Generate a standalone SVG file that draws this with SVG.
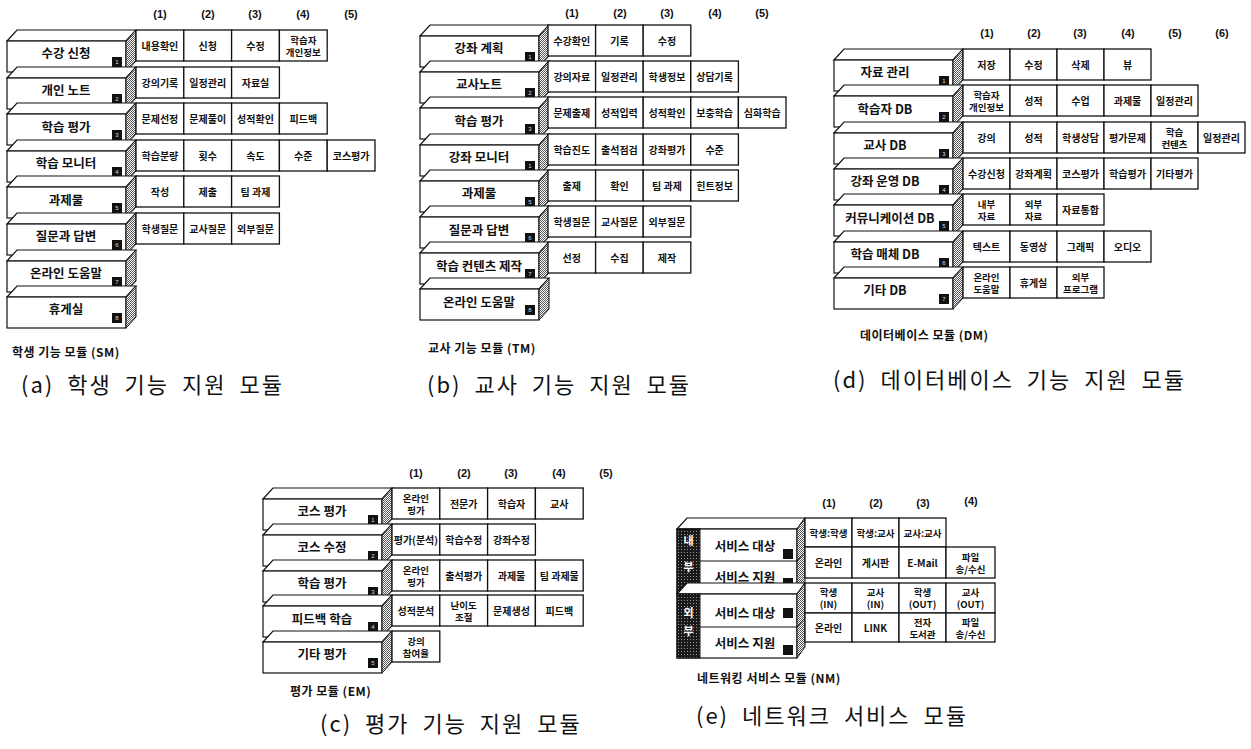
<svg xmlns="http://www.w3.org/2000/svg" xmlns:xlink="http://www.w3.org/1999/xlink" width="1251" height="749" viewBox="0 0 1251 749">
<style>
.f{fill:#fff;stroke:#111;stroke-width:1.2}
.s{fill:url(#ht);stroke:#111;stroke-width:1}
.q{fill:#111}
.c{fill:#fff;stroke:#111;stroke-width:1.3}
.t{font-family:"Noto Sans CJK KR","Noto Sans",sans-serif;font-weight:700;font-size:10px;text-anchor:middle;dominant-baseline:central;fill:#111}
.t2{font-size:9.5px}
.l{font-family:"Noto Sans CJK KR",sans-serif;font-weight:700;font-size:12.5px;text-anchor:middle;dominant-baseline:central;fill:#111}
.h{font-family:"Liberation Sans",Arial,sans-serif;font-weight:700;font-size:11px;text-anchor:middle;dominant-baseline:central;fill:#111}
.n{font-family:"Liberation Sans",sans-serif;font-size:6px;fill:#ddd;text-anchor:middle;dominant-baseline:central}
.cap{font-family:"Noto Sans CJK KR",sans-serif;font-weight:700;font-size:12px;fill:#111;dominant-baseline:central;letter-spacing:0.5px}
.big{font-family:"Noto Sans CJK KR",sans-serif;font-weight:400;font-size:22px;fill:#111;dominant-baseline:central;letter-spacing:2px;word-spacing:6px}
.w{font-family:"Noto Sans CJK KR",sans-serif;font-weight:700;font-size:11px;fill:#fff;text-anchor:middle;dominant-baseline:central}
</style>
<defs>
<pattern id="ht" width="2" height="2" patternUnits="userSpaceOnUse"><rect width="2" height="2" fill="#fff"/><rect width="1" height="1" fill="#555"/><rect x="1" y="1" width="1" height="1" fill="#555"/></pattern>
<pattern id="dk" width="3" height="3" patternUnits="userSpaceOnUse"><rect width="3" height="3" fill="#1a1a1a"/><rect width="1" height="1" fill="#999"/></pattern>
<g id="B"><path class="f" d="M0,11 L10,0 L129,0 L119,11Z"/><rect class="f" x="0" y="11" width="119" height="31"/><path class="s" d="M119,11 L129,0 L129,31 L119,42Z"/><rect class="q" x="105" y="27" width="10" height="10"/></g>
</defs>
<rect width="1251" height="749" fill="#fff"/>

<!-- ===== Panel (a) ===== -->
<g id="panel-a">
<g class="h"><text x="160" y="14">(1)</text><text x="208" y="14">(2)</text><text x="255" y="14">(3)</text><text x="303" y="14">(4)</text><text x="351" y="14">(5)</text></g>
<g id="a-sm0"><use xlink:href="#B" x="7" y="30"/><text class="l" x="66" y="52">수강 신청</text><text class="n" x="117" y="62">1</text></g>
<g id="a-sm1"><use xlink:href="#B" x="7" y="67"/><text class="l" x="66" y="89">개인 노트</text><text class="n" x="117" y="99">2</text></g>
<g id="a-sm2"><use xlink:href="#B" x="7" y="103"/><text class="l" x="66" y="126">학습 평가</text><text class="n" x="117" y="135">3</text></g>
<g id="a-sm3"><use xlink:href="#B" x="7" y="140"/><text class="l" x="66" y="162">학습 모니터</text><text class="n" x="117" y="172">4</text></g>
<g id="a-sm4"><use xlink:href="#B" x="7" y="176"/><text class="l" x="66" y="199">과제물</text><text class="n" x="117" y="208">5</text></g>
<g id="a-sm5"><use xlink:href="#B" x="7" y="213"/><text class="l" x="66" y="235">질문과 답변</text><text class="n" x="117" y="245">6</text></g>
<g id="a-sm6"><use xlink:href="#B" x="7" y="250"/><text class="l" x="66" y="272">온라인 도움말</text><text class="n" x="117" y="282">7</text></g>
<g id="a-sm7"><use xlink:href="#B" x="7" y="286"/><text class="l" x="66" y="308">휴게실</text><text class="n" x="117" y="318">8</text></g>
<g id="a-cells">
<rect class="c" x="136" y="30" width="47.8" height="31"/><text class="t" x="159.9" y="45.5">내용확인</text>
<rect class="c" x="183.8" y="30" width="47.8" height="31"/><text class="t" x="207.7" y="45.5">신청</text>
<rect class="c" x="231.6" y="30" width="47.8" height="31"/><text class="t" x="255.5" y="45.5">수정</text>
<rect class="c" x="279.4" y="30" width="47.8" height="31"/><text class="t t2" x="303.3" y="39.5">학습자</text><text class="t t2" x="303.3" y="51.5">개인정보</text>
<rect class="c" x="136" y="67" width="47.8" height="31"/><text class="t" x="159.9" y="82.5">강의기록</text>
<rect class="c" x="183.8" y="67" width="47.8" height="31"/><text class="t" x="207.7" y="82.5">일정관리</text>
<rect class="c" x="231.6" y="67" width="47.8" height="31"/><text class="t" x="255.5" y="82.5">자료실</text>
<rect class="c" x="136" y="103" width="47.8" height="31"/><text class="t" x="159.9" y="118.5">문제선정</text>
<rect class="c" x="183.8" y="103" width="47.8" height="31"/><text class="t" x="207.7" y="118.5">문제풀이</text>
<rect class="c" x="231.6" y="103" width="47.8" height="31"/><text class="t" x="255.5" y="118.5">성적확인</text>
<rect class="c" x="279.4" y="103" width="47.8" height="31"/><text class="t" x="303.3" y="118.5">피드백</text>
<rect class="c" x="136" y="140" width="47.8" height="31"/><text class="t" x="159.9" y="155.5">학습분량</text>
<rect class="c" x="183.8" y="140" width="47.8" height="31"/><text class="t" x="207.7" y="155.5">횟수</text>
<rect class="c" x="231.6" y="140" width="47.8" height="31"/><text class="t" x="255.5" y="155.5">속도</text>
<rect class="c" x="279.4" y="140" width="47.8" height="31"/><text class="t" x="303.3" y="155.5">수준</text>
<rect class="c" x="327.2" y="140" width="47.8" height="31"/><text class="t" x="351.1" y="155.5">코스평가</text>
<rect class="c" x="136" y="176" width="47.8" height="31"/><text class="t" x="159.9" y="191.5">작성</text>
<rect class="c" x="183.8" y="176" width="47.8" height="31"/><text class="t" x="207.7" y="191.5">제출</text>
<rect class="c" x="231.6" y="176" width="47.8" height="31"/><text class="t" x="255.5" y="191.5">팀 과제</text>
<rect class="c" x="136" y="213" width="47.8" height="31"/><text class="t" x="159.9" y="228.5">학생질문</text>
<rect class="c" x="183.8" y="213" width="47.8" height="31"/><text class="t" x="207.7" y="228.5">교사질문</text>
<rect class="c" x="231.6" y="213" width="47.8" height="31"/><text class="t" x="255.5" y="228.5">외부질문</text>
</g>
<text class="cap" x="12" y="351">학생 기능 모듈 (SM)</text>
<text class="big" x="21" y="383">(a) 학생 기능 지원 모듈</text>
</g>

<!-- ===== Panel (b) ===== -->
<g id="panel-b">
<g class="h"><text x="572" y="13">(1)</text><text x="620" y="13">(2)</text><text x="667" y="13">(3)</text><text x="715" y="13">(4)</text><text x="762" y="13">(5)</text></g>
<g id="b-tm0"><use xlink:href="#B" x="420" y="25"/><text class="l" x="479" y="47">강좌 계획</text><text class="n" x="530" y="57">1</text></g>
<g id="b-tm1"><use xlink:href="#B" x="420" y="61"/><text class="l" x="479" y="83">교사노트</text><text class="n" x="530" y="93">2</text></g>
<g id="b-tm2"><use xlink:href="#B" x="420" y="97"/><text class="l" x="479" y="120">학습 평가</text><text class="n" x="530" y="129">3</text></g>
<g id="b-tm3"><use xlink:href="#B" x="420" y="134"/><text class="l" x="479" y="156">강좌 모니터</text><text class="n" x="530" y="166">1</text></g>
<g id="b-tm4"><use xlink:href="#B" x="420" y="170"/><text class="l" x="479" y="192">과제물</text><text class="n" x="530" y="202">5</text></g>
<g id="b-tm5"><use xlink:href="#B" x="420" y="206"/><text class="l" x="479" y="229">질문과 답변</text><text class="n" x="530" y="238">6</text></g>
<g id="b-tm6"><use xlink:href="#B" x="420" y="242"/><text class="l" x="479" y="265">학습 컨텐츠 제작</text><text class="n" x="530" y="274">7</text></g>
<g id="b-tm7"><use xlink:href="#B" x="420" y="278"/><text class="l" x="479" y="301">온라인 도움말</text><text class="n" x="530" y="310">8</text></g>
<g id="b-cells">
<rect class="c" x="548" y="25" width="47.6" height="31"/><text class="t" x="571.8" y="40.5">수강확인</text>
<rect class="c" x="595.6" y="25" width="47.6" height="31"/><text class="t" x="619.4" y="40.5">기록</text>
<rect class="c" x="643.2" y="25" width="47.6" height="31"/><text class="t" x="667" y="40.5">수정</text>
<rect class="c" x="548" y="61" width="47.6" height="31"/><text class="t" x="571.8" y="76.5">강의자료</text>
<rect class="c" x="595.6" y="61" width="47.6" height="31"/><text class="t" x="619.4" y="76.5">일정관리</text>
<rect class="c" x="643.2" y="61" width="47.6" height="31"/><text class="t" x="667" y="76.5">학생정보</text>
<rect class="c" x="690.8" y="61" width="47.6" height="31"/><text class="t" x="714.6" y="76.5">상담기록</text>
<rect class="c" x="548" y="97" width="47.6" height="31"/><text class="t" x="571.8" y="112.5">문제출제</text>
<rect class="c" x="595.6" y="97" width="47.6" height="31"/><text class="t" x="619.4" y="112.5">성적입력</text>
<rect class="c" x="643.2" y="97" width="47.6" height="31"/><text class="t" x="667" y="112.5">성적확인</text>
<rect class="c" x="690.8" y="97" width="47.6" height="31"/><text class="t" x="714.6" y="112.5">보충학습</text>
<rect class="c" x="738.4" y="97" width="47.6" height="31"/><text class="t" x="762.2" y="112.5">심화학습</text>
<rect class="c" x="548" y="134" width="47.6" height="31"/><text class="t" x="571.8" y="149.5">학습진도</text>
<rect class="c" x="595.6" y="134" width="47.6" height="31"/><text class="t" x="619.4" y="149.5">출석점검</text>
<rect class="c" x="643.2" y="134" width="47.6" height="31"/><text class="t" x="667" y="149.5">강좌평가</text>
<rect class="c" x="690.8" y="134" width="47.6" height="31"/><text class="t" x="714.6" y="149.5">수준</text>
<rect class="c" x="548" y="170" width="47.6" height="31"/><text class="t" x="571.8" y="185.5">출제</text>
<rect class="c" x="595.6" y="170" width="47.6" height="31"/><text class="t" x="619.4" y="185.5">확인</text>
<rect class="c" x="643.2" y="170" width="47.6" height="31"/><text class="t" x="667" y="185.5">팀 과제</text>
<rect class="c" x="690.8" y="170" width="47.6" height="31"/><text class="t" x="714.6" y="185.5">힌트정보</text>
<rect class="c" x="548" y="206" width="47.6" height="31"/><text class="t" x="571.8" y="221.5">학생질문</text>
<rect class="c" x="595.6" y="206" width="47.6" height="31"/><text class="t" x="619.4" y="221.5">교사질문</text>
<rect class="c" x="643.2" y="206" width="47.6" height="31"/><text class="t" x="667" y="221.5">외부질문</text>
<rect class="c" x="548" y="242" width="47.6" height="31"/><text class="t" x="571.8" y="257.5">선정</text>
<rect class="c" x="595.6" y="242" width="47.6" height="31"/><text class="t" x="619.4" y="257.5">수집</text>
<rect class="c" x="643.2" y="242" width="47.6" height="31"/><text class="t" x="667" y="257.5">제작</text>
</g>
<text class="cap" x="428" y="347">교사 기능 모듈 (TM)</text>
<text class="big" x="427" y="383">(b) 교사 기능 지원 모듈</text>
</g>

<!-- ===== Panel (d) ===== -->
<g id="panel-d">
<g class="h"><text x="987" y="33">(1)</text><text x="1034" y="33">(2)</text><text x="1080" y="33">(3)</text><text x="1128" y="33">(4)</text><text x="1175" y="33">(5)</text><text x="1222" y="33">(6)</text></g>
<g id="d-dm0"><use xlink:href="#B" x="834" y="49"/><text class="l" x="885" y="71">자료 관리</text><text class="n" x="944" y="81">1</text></g>
<g id="d-dm1"><use xlink:href="#B" x="834" y="85"/><text class="l" x="885" y="108">학습자 DB</text><text class="n" x="944" y="117">2</text></g>
<g id="d-dm2"><use xlink:href="#B" x="834" y="122"/><text class="l" x="885" y="144">교사 DB</text><text class="n" x="944" y="154">3</text></g>
<g id="d-dm3"><use xlink:href="#B" x="834" y="158"/><text class="l" x="885" y="180">강좌 운영 DB</text><text class="n" x="944" y="190">4</text></g>
<g id="d-dm4"><use xlink:href="#B" x="834" y="194"/><text class="l" x="890" y="217">커뮤니케이션 DB</text><text class="n" x="944" y="226">5</text></g>
<g id="d-dm5"><use xlink:href="#B" x="834" y="231"/><text class="l" x="885" y="253">학습 매체 DB</text><text class="n" x="944" y="263">6</text></g>
<g id="d-dm6"><use xlink:href="#B" x="834" y="267"/><text class="l" x="885" y="289">기타 DB</text><text class="n" x="944" y="299">7</text></g>
<g id="d-cells">
<rect class="c" x="963" y="49" width="47" height="31"/><text class="t" x="986.5" y="64.5">저장</text>
<rect class="c" x="1010" y="49" width="47" height="31"/><text class="t" x="1033.5" y="64.5">수정</text>
<rect class="c" x="1057" y="49" width="47" height="31"/><text class="t" x="1080.5" y="64.5">삭제</text>
<rect class="c" x="1104" y="49" width="47" height="31"/><text class="t" x="1127.5" y="64.5">뷰</text>
<rect class="c" x="963" y="85" width="47" height="31"/><text class="t t2" x="986.5" y="94.5">학습자</text><text class="t t2" x="986.5" y="106.5">개인정보</text>
<rect class="c" x="1010" y="85" width="47" height="31"/><text class="t" x="1033.5" y="100.5">성적</text>
<rect class="c" x="1057" y="85" width="47" height="31"/><text class="t" x="1080.5" y="100.5">수업</text>
<rect class="c" x="1104" y="85" width="47" height="31"/><text class="t" x="1127.5" y="100.5">과제물</text>
<rect class="c" x="1151" y="85" width="47" height="31"/><text class="t" x="1174.5" y="100.5">일정관리</text>
<rect class="c" x="963" y="122" width="47" height="31"/><text class="t" x="986.5" y="137.5">강의</text>
<rect class="c" x="1010" y="122" width="47" height="31"/><text class="t" x="1033.5" y="137.5">성적</text>
<rect class="c" x="1057" y="122" width="47" height="31"/><text class="t" x="1080.5" y="137.5">학생상담</text>
<rect class="c" x="1104" y="122" width="47" height="31"/><text class="t" x="1127.5" y="137.5">평가문제</text>
<rect class="c" x="1151" y="122" width="47" height="31"/><text class="t t2" x="1174.5" y="131.5">학습</text><text class="t t2" x="1174.5" y="143.5">컨텐츠</text>
<rect class="c" x="1198" y="122" width="47" height="31"/><text class="t" x="1221.5" y="137.5">일정관리</text>
<rect class="c" x="963" y="158" width="47" height="31"/><text class="t" x="986.5" y="173.5">수강신청</text>
<rect class="c" x="1010" y="158" width="47" height="31"/><text class="t" x="1033.5" y="173.5">강좌계획</text>
<rect class="c" x="1057" y="158" width="47" height="31"/><text class="t" x="1080.5" y="173.5">코스평가</text>
<rect class="c" x="1104" y="158" width="47" height="31"/><text class="t" x="1127.5" y="173.5">학습평가</text>
<rect class="c" x="1151" y="158" width="47" height="31"/><text class="t" x="1174.5" y="173.5">기타평가</text>
<rect class="c" x="963" y="194" width="47" height="31"/><text class="t t2" x="986.5" y="203.5">내부</text><text class="t t2" x="986.5" y="215.5">자료</text>
<rect class="c" x="1010" y="194" width="47" height="31"/><text class="t t2" x="1033.5" y="203.5">외부</text><text class="t t2" x="1033.5" y="215.5">자료</text>
<rect class="c" x="1057" y="194" width="47" height="31"/><text class="t" x="1080.5" y="209.5">자료통합</text>
<rect class="c" x="963" y="231" width="47" height="31"/><text class="t" x="986.5" y="246.5">텍스트</text>
<rect class="c" x="1010" y="231" width="47" height="31"/><text class="t" x="1033.5" y="246.5">동영상</text>
<rect class="c" x="1057" y="231" width="47" height="31"/><text class="t" x="1080.5" y="246.5">그래픽</text>
<rect class="c" x="1104" y="231" width="47" height="31"/><text class="t" x="1127.5" y="246.5">오디오</text>
<rect class="c" x="963" y="267" width="47" height="31"/><text class="t t2" x="986.5" y="276.5">온라인</text><text class="t t2" x="986.5" y="288.5">도움말</text>
<rect class="c" x="1010" y="267" width="47" height="31"/><text class="t" x="1033.5" y="282.5">휴게실</text>
<rect class="c" x="1057" y="267" width="47" height="31"/><text class="t t2" x="1080.5" y="276.5">외부</text><text class="t t2" x="1080.5" y="288.5">프로그램</text>
</g>
<text class="cap" x="860" y="334">데이터베이스 모듈 (DM)</text>
<text class="big" x="833" y="378">(d) 데이터베이스 기능 지원 모듈</text>
</g>

<!-- ===== Panel (c) ===== -->
<g id="panel-c">
<g class="h"><text x="416" y="473">(1)</text><text x="464" y="473">(2)</text><text x="511" y="473">(3)</text><text x="559" y="473">(4)</text><text x="606" y="473">(5)</text></g>
<g id="c-em0"><use xlink:href="#B" x="263" y="488"/><text class="l" x="322" y="510">코스 평가</text><text class="n" x="373" y="520">1</text></g>
<g id="c-em1"><use xlink:href="#B" x="263" y="524"/><text class="l" x="322" y="546">코스 수정</text><text class="n" x="373" y="556">2</text></g>
<g id="c-em2"><use xlink:href="#B" x="263" y="560"/><text class="l" x="322" y="582">학습 평가</text><text class="n" x="373" y="592">3</text></g>
<g id="c-em3"><use xlink:href="#B" x="263" y="595"/><text class="l" x="322" y="618">피드백 학습</text><text class="n" x="373" y="627">4</text></g>
<g id="c-em4"><use xlink:href="#B" x="263" y="631"/><text class="l" x="322" y="653">기타 평가</text><text class="n" x="373" y="663">5</text></g>
<g id="c-cells">
<rect class="c" x="392" y="488" width="47.8" height="31"/><text class="t t2" x="415.9" y="497.5">온라인</text><text class="t t2" x="415.9" y="509.5">평가</text>
<rect class="c" x="439.8" y="488" width="47.8" height="31"/><text class="t" x="463.7" y="503.5">전문가</text>
<rect class="c" x="487.6" y="488" width="47.8" height="31"/><text class="t" x="511.5" y="503.5">학습자</text>
<rect class="c" x="535.4" y="488" width="47.8" height="31"/><text class="t" x="559.3" y="503.5">교사</text>
<rect class="c" x="392" y="524" width="47.8" height="31"/><text class="t" x="415.9" y="539.5">평가(분석)</text>
<rect class="c" x="439.8" y="524" width="47.8" height="31"/><text class="t" x="463.7" y="539.5">학습수정</text>
<rect class="c" x="487.6" y="524" width="47.8" height="31"/><text class="t" x="511.5" y="539.5">강좌수정</text>
<rect class="c" x="392" y="560" width="47.8" height="31"/><text class="t t2" x="415.9" y="569.5">온라인</text><text class="t t2" x="415.9" y="581.5">평가</text>
<rect class="c" x="439.8" y="560" width="47.8" height="31"/><text class="t" x="463.7" y="575.5">출석평가</text>
<rect class="c" x="487.6" y="560" width="47.8" height="31"/><text class="t" x="511.5" y="575.5">과제물</text>
<rect class="c" x="535.4" y="560" width="47.8" height="31"/><text class="t" x="559.3" y="575.5">팀 과제물</text>
<rect class="c" x="392" y="595" width="47.8" height="31"/><text class="t" x="415.9" y="610.5">성적분석</text>
<rect class="c" x="439.8" y="595" width="47.8" height="31"/><text class="t t2" x="463.7" y="604.5">난이도</text><text class="t t2" x="463.7" y="616.5">조절</text>
<rect class="c" x="487.6" y="595" width="47.8" height="31"/><text class="t" x="511.5" y="610.5">문제생성</text>
<rect class="c" x="535.4" y="595" width="47.8" height="31"/><text class="t" x="559.3" y="610.5">피드백</text>
<rect class="c" x="392" y="631" width="47.8" height="31"/><text class="t t2" x="415.9" y="640.5">강의</text><text class="t t2" x="415.9" y="652.5">참여율</text>
</g>
<text class="cap" x="290" y="690">평가 모듈 (EM)</text>
<text class="big" x="320" y="722">(c) 평가 기능 지원 모듈</text>
</g>

<!-- ===== Panel (e) ===== -->
<g id="panel-e">
<g class="h"><text x="829" y="503">(1)</text><text x="876" y="503">(2)</text><text x="923" y="503">(3)</text><text x="971" y="501">(4)</text></g>
<g id="e-internal">
<path class="f" d="M677,529 L687,518 L805,518 L797,529Z"/>
<rect class="f" x="677" y="529" width="120" height="65"/>
<path class="s" d="M797,529 L805,518 L805,583 L797,594Z"/>
<line x1="700" y1="561" x2="797" y2="561" stroke="#111" stroke-width="1"/>
<path d="M797,561 L805,552" stroke="#111" stroke-width="1" fill="none"/>
<rect x="677" y="529" width="23" height="65" fill="url(#dk)" stroke="#111"/>
<text class="w" x="688.5" y="540">내</text><text class="w" x="688.5" y="566">부</text>
<text class="l" x="745" y="545">서비스 대상</text><text class="l" x="745" y="576">서비스 지원</text>
<rect class="q" x="783" y="549" width="10" height="10"/><rect class="q" x="783" y="578" width="10" height="10"/>
</g>
<g id="e-external">
<path class="f" d="M677,594 L687,583 L805,583 L797,594Z"/>
<rect class="f" x="677" y="594" width="120" height="64"/>
<path class="s" d="M797,594 L805,583 L805,647 L797,658Z"/>
<line x1="700" y1="627" x2="797" y2="627" stroke="#111" stroke-width="1"/>
<path d="M797,627 L805,618" stroke="#111" stroke-width="1" fill="none"/>
<rect x="677" y="594" width="23" height="64" fill="url(#dk)" stroke="#111"/>
<text class="w" x="688.5" y="612">외</text><text class="w" x="688.5" y="630">부</text>
<text class="l" x="745" y="612">서비스 대상</text><text class="l" x="745" y="642">서비스 지원</text>
<rect class="q" x="783" y="608" width="10" height="10"/><rect class="q" x="783" y="645" width="10" height="10"/>
</g>
<g id="e-cells">
<rect class="c" x="805" y="518" width="47" height="29"/><text class="t t2" x="828.5" y="532.5">학생:학생</text>
<rect class="c" x="852" y="518" width="47" height="29"/><text class="t t2" x="875.5" y="532.5">학생:교사</text>
<rect class="c" x="899" y="518" width="47" height="29"/><text class="t t2" x="922.5" y="532.5">교사:교사</text>
<rect class="c" x="805" y="547" width="47" height="31"/><text class="t" x="828.5" y="562.5">온라인</text>
<rect class="c" x="852" y="547" width="47" height="31"/><text class="t" x="875.5" y="562.5">게시판</text>
<rect class="c" x="899" y="547" width="47" height="31"/><text class="t" x="922.5" y="562.5">E-Mail</text>
<rect class="c" x="946" y="547" width="49" height="31"/><text class="t t2" x="970.5" y="556.5">파일</text><text class="t t2" x="970.5" y="568.5">송/수신</text>
<rect class="c" x="805" y="583" width="47" height="30"/><text class="t t2" x="828.5" y="592">학생</text><text class="t t2" x="828.5" y="604">(IN)</text>
<rect class="c" x="852" y="583" width="47" height="30"/><text class="t t2" x="875.5" y="592">교사</text><text class="t t2" x="875.5" y="604">(IN)</text>
<rect class="c" x="899" y="583" width="47" height="30"/><text class="t t2" x="922.5" y="592">학생</text><text class="t t2" x="922.5" y="604">(OUT)</text>
<rect class="c" x="946" y="583" width="49" height="30"/><text class="t t2" x="970.5" y="592">교사</text><text class="t t2" x="970.5" y="604">(OUT)</text>
<rect class="c" x="805" y="613" width="47" height="29"/><text class="t" x="828.5" y="627.5">온라인</text>
<rect class="c" x="852" y="613" width="47" height="29"/><text class="t" x="875.5" y="627.5">LINK</text>
<rect class="c" x="899" y="613" width="47" height="29"/><text class="t t2" x="922.5" y="621.5">전자</text><text class="t t2" x="922.5" y="633.5">도서관</text>
<rect class="c" x="946" y="613" width="49" height="29"/><text class="t t2" x="970.5" y="621.5">파일</text><text class="t t2" x="970.5" y="633.5">송/수신</text>
</g>
<text class="cap" x="697" y="677">네트워킹 서비스 모듈 (NM)</text>
<text class="big" x="696" y="714">(e) 네트워크 서비스 모듈</text>
</g>
</svg>
